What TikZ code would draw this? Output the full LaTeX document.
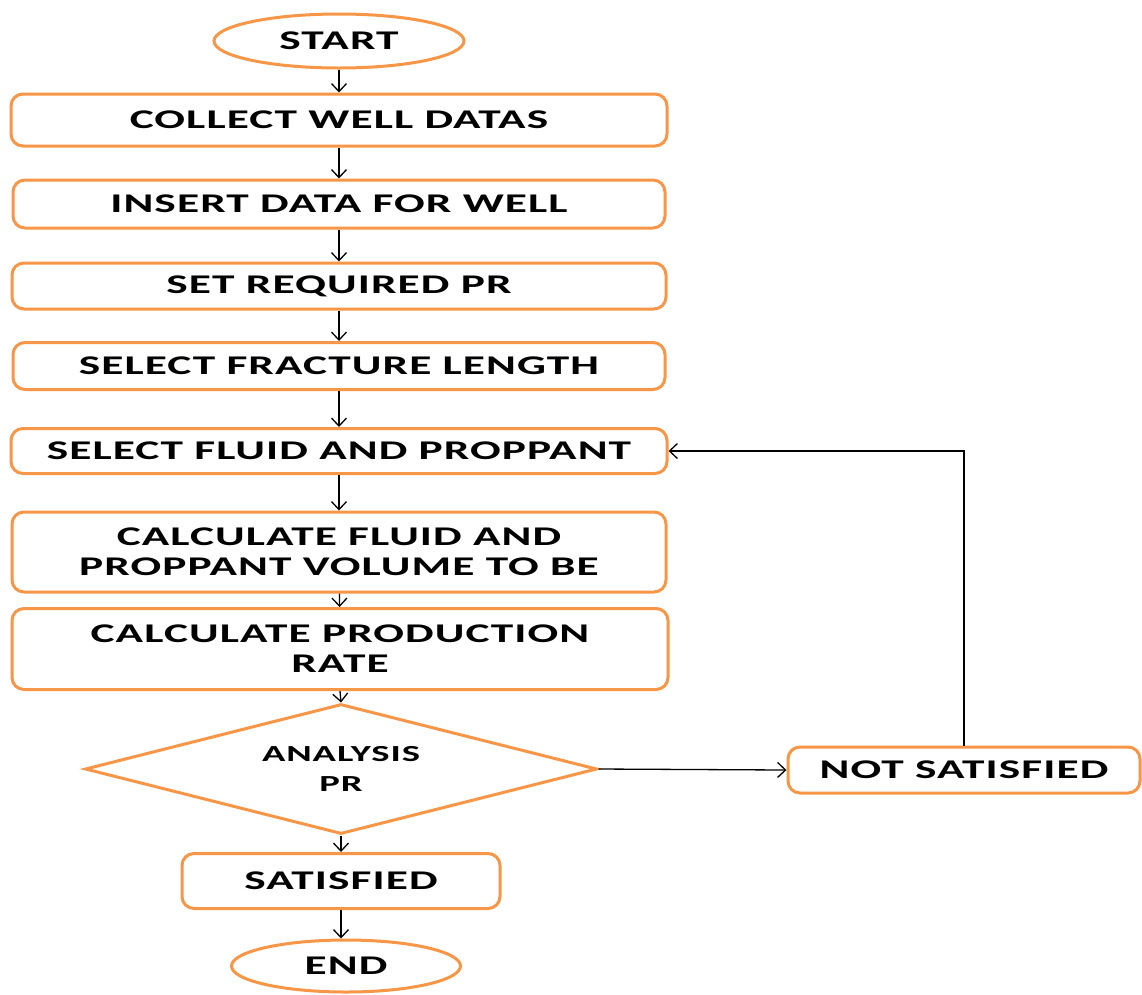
\documentclass[tikz,border=0pt]{standalone}
\usepackage{fontspec}
\usetikzlibrary{shapes.geometric,arrows.meta}
\newfontfamily\lab[FakeStretch=1.68,LetterSpace=4]{Carlito}
\definecolor{orng}{HTML}{F79646}
\tikzset{
  box/.style={draw=orng,line width=3pt,rounded corners=12pt,fill=white,inner sep=0pt,align=center,
     font=\lab\bfseries\fontsize{27}{30}\selectfont},
  oval/.style={draw=orng,line width=3pt,ellipse,inner sep=0pt,
     font=\lab\bfseries\fontsize{27}{30}\selectfont},
  dec/.style={draw=orng,line width=3pt,diamond,aspect=3.94,inner sep=0pt,align=center,
     font=\lab\bfseries\fontsize{23}{30}\selectfont},
  arr/.style={draw=black,line width=1.3pt,-{Straight Barb[length=8pt,width=15pt,line width=1.3pt]}}
}
\begin{document}
\begin{tikzpicture}[x=1pt,y=-1pt]
\useasboundingbox (0,0) rectangle (1142,994);
\node[oval,minimum width=250pt,minimum height=54pt] (start) at (339,41) {START};
\node[box,minimum width=656pt,minimum height=52pt] (collect) at (339,120) {COLLECT WELL DATAS};
\node[box,minimum width=652pt,minimum height=48pt] (insert) at (339,204) {INSERT DATA FOR WELL};
\node[box,minimum width=654pt,minimum height=46pt] (setpr) at (339,286) {SET REQUIRED PR};
\node[box,minimum width=652pt,minimum height=47pt] (frac) at (339,366) {SELECT FRACTURE LENGTH};
\node[box,minimum width=656pt,minimum height=45pt] (fluid) at (339,451) {SELECT FLUID AND PROPPANT};
\node[box,minimum width=654pt,minimum height=80pt] (calcf) at (339,552) {CALCULATE FLUID AND\\PROPPANT VOLUME TO BE};
\node[box,minimum width=656pt,minimum height=81pt] (calcp) at (340,649) {CALCULATE PRODUCTION\\RATE};
\node[dec,minimum width=512pt,minimum height=130pt] (dia) at (341,769) {ANALYSIS\\PR};
\node[box,minimum width=352pt,minimum height=46pt] (notsat) at (964,770) {NOT SATISFIED};
\node[box,minimum width=318pt,minimum height=55pt] (sat) at (341,881) {SATISFIED};
\node[oval,minimum width=229pt,minimum height=52pt] (end) at (346,966) {END};
\draw[arr] (start) -- (collect);
\draw[arr] (collect) -- (insert);
\draw[arr] (insert) -- (setpr);
\draw[arr] (setpr) -- (frac);
\draw[arr] (frac) -- (fluid);
\draw[arr] (fluid) -- (calcf);
\draw[arr] (calcf) -- (calcp);
\draw[arr] (calcp.south) -- (dia.north);
\draw[arr] (dia.south) -- (sat.north);
\draw[arr] (sat.south) -- (sat.south |- end.north);
\draw[arr] (dia.east) -- (notsat.west);
\draw[arr] (notsat.north) |- (fluid.east);
\end{tikzpicture}
\end{document}
